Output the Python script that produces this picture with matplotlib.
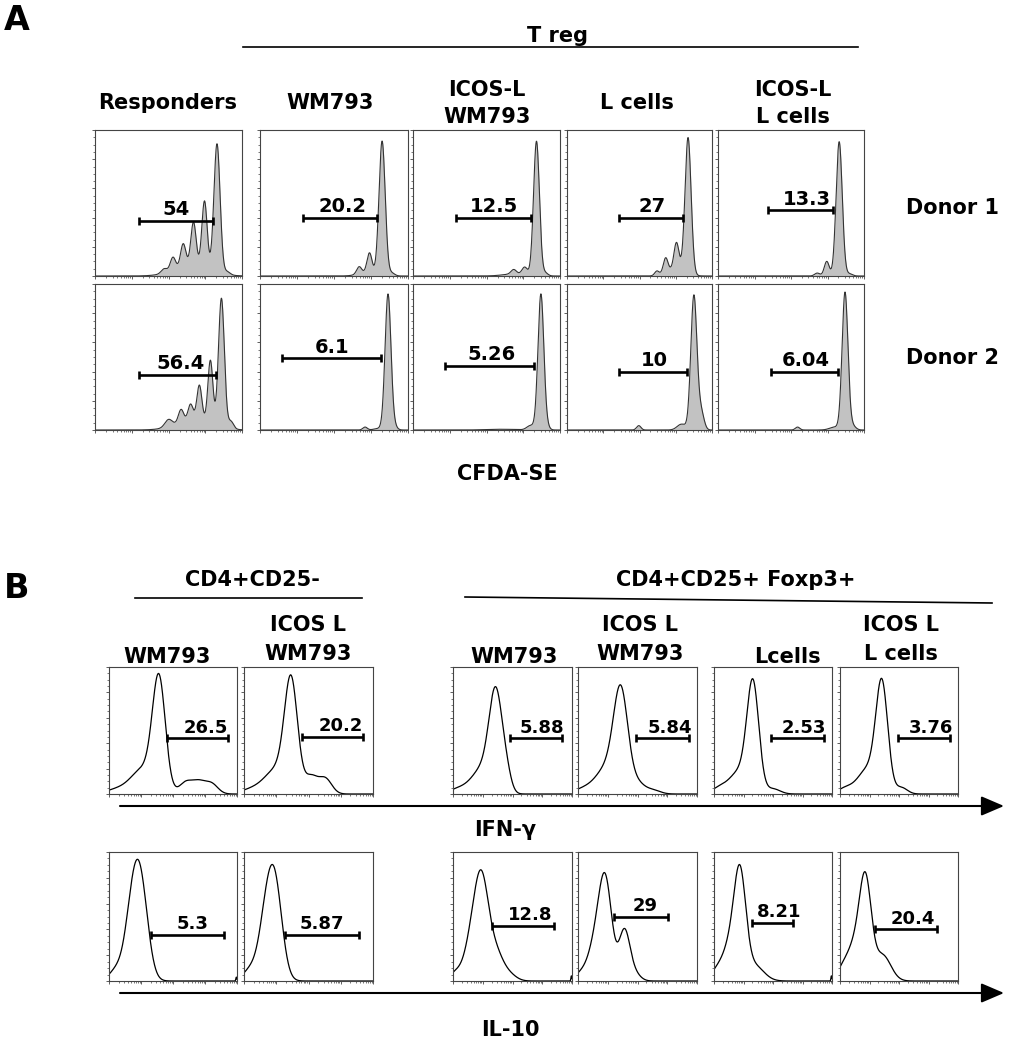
import numpy as np
import matplotlib
matplotlib.use("Agg")
import matplotlib.pyplot as plt

W, H = 1021, 1050

# ---- panel A: CFDA-SE dilution, peaks as (centre, height, width) on a 0-1 log axis
a_columns = ["Responders", "WM793", "ICOS-L\nWM793", "L cells", "ICOS-L\nL cells"]
a_donors = ["Donor 1", "Donor 2"]
a_peaks_d1 = [
    [(0.83, 0.88, 0.021), (0.745, 0.46, 0.018), (0.67, 0.30, 0.018), (0.60, 0.16, 0.018),
     (0.53, 0.09, 0.018), (0.47, 0.03, 0.02), (0.66, 0.07, 0.12), (0.90, 0.02, 0.02)],
    [(0.825, 0.92, 0.021), (0.74, 0.14, 0.017), (0.67, 0.05, 0.017), (0.89, 0.02, 0.02), (0.72, 0.02, 0.06)],
    [(0.84, 0.92, 0.020), (0.76, 0.05, 0.018), (0.685, 0.03, 0.018), (0.90, 0.02, 0.018), (0.70, 0.015, 0.08)],
    [(0.835, 0.93, 0.021), (0.755, 0.18, 0.017), (0.68, 0.10, 0.016), (0.62, 0.03, 0.015), (0.75, 0.05, 0.06)],
    [(0.83, 0.92, 0.021), (0.745, 0.10, 0.017), (0.68, 0.02, 0.018), (0.90, 0.015, 0.02)],
]
a_peaks_d2 = [
    [(0.86, 0.88, 0.020), (0.785, 0.43, 0.017), (0.71, 0.24, 0.017), (0.65, 0.11, 0.017),
     (0.585, 0.09, 0.018), (0.50, 0.05, 0.025), (0.68, 0.07, 0.12), (0.925, 0.05, 0.018)],
    [(0.865, 0.93, 0.020), (0.71, 0.02, 0.015), (0.91, 0.02, 0.018), (0.80, 0.01, 0.03)],
    [(0.87, 0.93, 0.020), (0.80, 0.03, 0.025), (0.91, 0.02, 0.018), (0.60, 0.005, 0.1)],
    [(0.875, 0.92, 0.021), (0.925, 0.12, 0.02), (0.79, 0.04, 0.03), (0.495, 0.03, 0.015)],
    [(0.87, 0.94, 0.020), (0.545, 0.02, 0.015), (0.92, 0.03, 0.022), (0.80, 0.02, 0.035)],
]
a_gates_d1 = [(0.30, 0.80, 0.38), (0.29, 0.79, 0.40), (0.29, 0.80, 0.40), (0.36, 0.80, 0.40), (0.34, 0.79, 0.45)]
a_gates_d2 = [(0.30, 0.82, 0.375), (0.15, 0.82, 0.49), (0.22, 0.82, 0.44), (0.36, 0.83, 0.40), (0.36, 0.82, 0.40)]
a_values_d1 = ["54", "20.2", "12.5", "27", "13.3"]
a_values_d2 = ["56.4", "6.1", "5.26", "10", "6.04"]
a_label_x_d1 = [0.55, 0.555, 0.55, 0.585, 0.61]
a_label_x_d2 = [0.58, 0.49, 0.535, 0.60, 0.60]

# ---- panel B: IFN-gamma and IL-10 staining
b_columns = ["WM793", "ICOS L\nWM793", "WM793", "ICOS L\nWM793", "Lcells", "ICOS L\nL cells"]
b_peaks_ifn = [
    [(0.39, 0.85, 0.05), (0.27, 0.20, 0.10), (0.60, 0.09, 0.05), (0.70, 0.09, 0.05), (0.80, 0.08, 0.05), (0.05, 0.03, 0.08)],
    [(0.365, 0.82, 0.05), (0.26, 0.20, 0.10), (0.52, 0.13, 0.05), (0.63, 0.12, 0.05), (0.05, 0.03, 0.08)],
    [(0.36, 0.74, 0.055), (0.25, 0.20, 0.09), (0.45, 0.12, 0.04), (0.05, 0.04, 0.08)],
    [(0.36, 0.77, 0.06), (0.24, 0.20, 0.09), (0.50, 0.08, 0.06), (0.63, 0.03, 0.06), (0.05, 0.04, 0.08)],
    [(0.33, 0.82, 0.05), (0.22, 0.18, 0.09), (0.50, 0.04, 0.06), (0.04, 0.04, 0.06)],
    [(0.355, 0.82, 0.05), (0.24, 0.20, 0.09), (0.52, 0.05, 0.05), (0.04, 0.04, 0.06)],
]
b_peaks_il10 = [
    [(0.24, 0.80, 0.06), (0.17, 0.30, 0.05), (0.07, 0.10, 0.06), (0.995, 0.03, 0.004)],
    [(0.235, 0.78, 0.058), (0.16, 0.30, 0.05), (0.06, 0.10, 0.06)],
    [(0.24, 0.75, 0.06), (0.15, 0.25, 0.06), (0.36, 0.20, 0.06), (0.47, 0.05, 0.06), (0.02, 0.06, 0.05), (0.995, 0.04, 0.004)],
    [(0.23, 0.75, 0.055), (0.14, 0.25, 0.06), (0.39, 0.38, 0.045), (0.47, 0.06, 0.05), (0.02, 0.05, 0.05)],
    [(0.22, 0.78, 0.05), (0.13, 0.25, 0.06), (0.34, 0.12, 0.08), (0.02, 0.07, 0.05), (0.995, 0.04, 0.004)],
    [(0.215, 0.75, 0.05), (0.12, 0.25, 0.06), (0.36, 0.20, 0.07), (0.02, 0.08, 0.05)],
]
b_gates_ifn = [(0.457, 0.927, 0.44), (0.45, 0.92, 0.45), (0.48, 0.92, 0.44), (0.49, 0.93, 0.44), (0.48, 0.935, 0.44), (0.49, 0.935, 0.44)]
b_gates_il10 = [(0.33, 0.90, 0.36), (0.32, 0.89, 0.36), (0.33, 0.85, 0.43), (0.30, 0.76, 0.50), (0.32, 0.67, 0.45), (0.30, 0.82, 0.40)]
b_values_ifn = ["26.5", "20.2", "5.88", "5.84", "2.53", "3.76"]
b_values_il10 = ["5.3", "5.87", "12.8", "29", "8.21", "20.4"]
b_label_x_ifn = [0.76, 0.75, 0.75, 0.77, 0.76, 0.77]
b_label_x_il10 = [0.655, 0.606, 0.65, 0.565, 0.553, 0.62]

# layout in pixels
a_cols = [(95, 242), (260, 408), (413, 560), (567, 712), (718, 864)]
a_rows = [(130, 276), (284, 430)]
b_cols = [(109, 237), (244, 373), (453, 572), (578, 697), (714, 832), (840, 958)]
b_rows = [(667, 794), (852, 981)]

x = np.linspace(0, 1, 800)
minor_x = [(d + np.log10(k)) / 4 for d in range(4) for k in range(2, 10)]


def curve(peaks):
    return sum(h * np.exp(-(x - c) ** 2 / (2 * s * s)) for c, h, s in peaks)


def make_ax(cols, rows):
    ax = fig.add_axes([cols[0] / W, 1 - rows[1] / H, (cols[1] - cols[0]) / W, (rows[1] - rows[0]) / H])
    ax.set_xlim(0, 1)
    ax.set_ylim(0, 1)
    for s in ax.spines.values():
        s.set_color("#444444")
        s.set_linewidth(0.8)
    ax.set_xticks([0, 0.25, 0.5, 0.75, 1])
    ax.set_xticks(minor_x, minor=True)
    ax.set_yticks(np.arange(0, 1.01, 0.2))
    ax.set_yticks(np.arange(0, 1.01, 0.05), minor=True)
    ax.tick_params(which="major", length=2.5, width=0.6, color="#444444", labelbottom=False, labelleft=False)
    ax.tick_params(which="minor", length=1.3, width=0.5, color="#444444")
    return ax


def gate(ax, lo, hi, y, label, lx, fs):
    ax.plot([lo, hi], [y, y], color="black", lw=1.9, solid_capstyle="butt")
    ax.plot([lo, hi], [y, y], ls="none", marker="|", ms=6, mew=1.9, color="black")
    ax.text(lx, y + 0.012, label, ha="center", va="bottom", fontsize=fs, fontweight="bold")


fig = plt.figure(figsize=(W / 100, H / 100), dpi=100)

# panel A histograms
for r, (peaks, gates, vals, lxs) in enumerate([(a_peaks_d1, a_gates_d1, a_values_d1, a_label_x_d1),
                                                (a_peaks_d2, a_gates_d2, a_values_d2, a_label_x_d2)]):
    for c in range(5):
        ax = make_ax(a_cols[c], a_rows[r])
        y = curve(peaks[c])
        ax.fill_between(x, 0, y, color="#c2c2c2", lw=0)
        ax.plot(x, y, color="#333333", lw=0.8)
        lo, hi, gy = gates[c]
        gate(ax, lo, hi, gy, vals[c], lxs[c], 14)

# panel B histograms
for r, (peaks, gates, vals, lxs) in enumerate([(b_peaks_ifn, b_gates_ifn, b_values_ifn, b_label_x_ifn),
                                                (b_peaks_il10, b_gates_il10, b_values_il10, b_label_x_il10)]):
    for c in range(6):
        ax = make_ax(b_cols[c], b_rows[r])
        ax.plot(x, curve(peaks[c]), color="black", lw=0.9)
        lo, hi, gy = gates[c]
        gate(ax, lo, hi, gy, vals[c], lxs[c], 13)

# overlay in pixel coordinates for headings, lines and arrows
ov = fig.add_axes([0, 0, 1, 1])
ov.set_xlim(0, W)
ov.set_ylim(H, 0)
ov.axis("off")
ov.patch.set_visible(False)

bold = dict(fontweight="bold", ha="center", va="center")
ov.text(17, 20, "A", fontsize=24, **bold)
ov.text(17, 589, "B", fontsize=24, **bold)

ov.text(557, 36, "T reg", fontsize=15, **bold)
ov.plot([243, 858], [47, 47], color="black", lw=1.2)
a_head_x = [168, 330, 487, 637, 793]
for name, hx in zip(a_columns, a_head_x):
    lines = name.split("\n")
    if len(lines) == 1:
        ov.text(hx, 103, lines[0], fontsize=15, **bold)
    else:
        ov.text(hx, 90, lines[0], fontsize=15, **bold)
        ov.text(hx, 117, lines[1], fontsize=15, **bold)
for name, dy in zip(a_donors, [208, 358]):
    ov.text(952, dy, name, fontsize=15, **bold)
ov.text(507, 474, "CFDA-SE", fontsize=15, **bold)

ov.text(252, 580, "CD4+CD25-", fontsize=15, **bold)
ov.plot([135, 362], [598, 598], color="black", lw=1.2)
ov.text(736, 580, "CD4+CD25+ Foxp3+", fontsize=15, **bold)
ov.plot([465, 992], [597, 603], color="black", lw=1.2)

b_head_x = [167, 308, 514, 640, 787, 901]
for name, hx in zip(b_columns, b_head_x):
    lines = name.split("\n")
    if len(lines) == 1:
        ov.text(hx, 657, lines[0], fontsize=15, **bold)
    else:
        ov.text(hx, 625, lines[0], fontsize=15, **bold)
        ov.text(hx, 654, lines[1], fontsize=15, **bold)

for ay in [806, 993]:
    ov.annotate("", xy=(1004, ay), xytext=(120, ay),
                arrowprops=dict(arrowstyle="-|>,head_length=0.7,head_width=0.3",
                                lw=1.5, color="black", mutation_scale=20, shrinkA=0, shrinkB=0))
ov.text(505, 830, "IFN-γ", fontsize=15, **bold)
ov.text(510, 1030, "IL-10", fontsize=15, **bold)

fig.savefig("out.png", dpi=100)
